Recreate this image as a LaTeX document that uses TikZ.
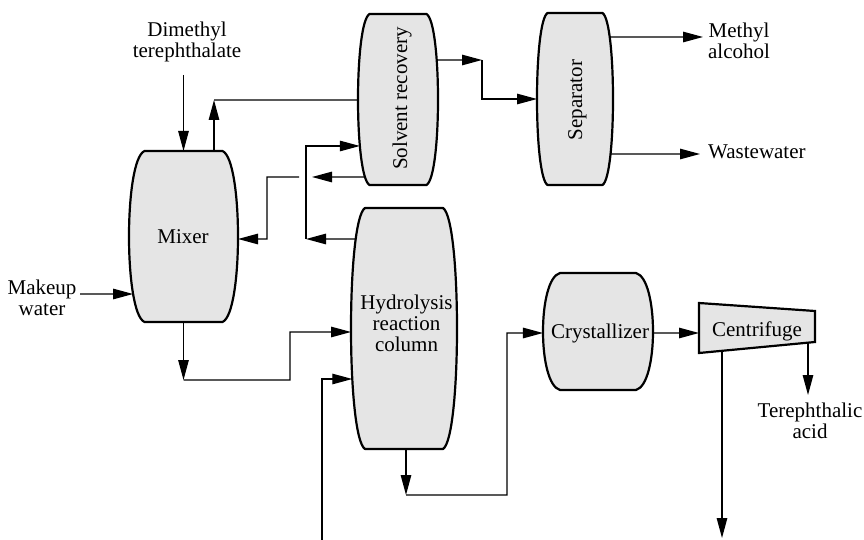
\documentclass[tikz,border=0pt]{standalone}
\usepackage{fontspec}
\setmainfont{Liberation Serif}
\usetikzlibrary{arrows.meta,calc,intersections,backgrounds}
\newcommand\barrelbox[3]{%
  \path[vessel, name path=#1-p]
    ($(#1.north west)+(#2,0)$) -- ($(#1.north east)+(-#2,0)$)
    .. controls ($(#1.north east)+(#2/3,#3)$) and ($(#1.south east)+(#2/3,-#3)$)
    .. ($(#1.south east)+(-#2,0)$) -- ($(#1.south west)+(#2,0)$)
    .. controls ($(#1.south west)+(-#2/3,-#3)$) and ($(#1.north west)+(-#2/3,#3)$)
    .. ($(#1.north west)+(#2,0)$) -- cycle;}
\newcommand\sidepts[3]{%
  \path[name path=hl#3] (0,#2) -- (864,#2);
  \path[name intersections={of=#1-p and hl#3, by={#3L,#3R}, sort by=hl#3}];}
\begin{document}
\begin{tikzpicture}[x=1bp,y=-1bp,
  every node/.style={font=\fontsize{21bp}{21bp}\selectfont, inner sep=0pt},
  vessel/.style={draw=black, line width=2.2bp, fill=gray!20, line join=round},
  unit/.style={inner sep=0pt, outer sep=0pt, draw=none},
  flow/.style={draw=black, line width=1.2bp, -{Triangle[length=20bp,width=10.5bp]}},
  pipe/.style={draw=black, line width=1.2bp},
  txt/.style={align=center}]
\useasboundingbox (0,0) rectangle (864,540);

% vessel frames
\node[unit, minimum width=109bp, minimum height=171bp] (mix) at (183.5,236.5) {};
\node[unit, minimum width=106bp, minimum height=241bp] (hyd) at (404,328.5) {};
\node[unit, minimum width=80bp, minimum height=171bp] (sr) at (398,99.5) {};
\node[unit, minimum width=76bp, minimum height=172bp] (sep) at (575,99) {};
\node[unit, minimum width=110bp, minimum height=117bp] (cry) at (598,331.5) {};

\barrelbox{mix}{15.5}{9}
\barrelbox{hyd}{14}{12}
\barrelbox{sr}{11.5}{9}
\barrelbox{sep}{10.5}{9}
\barrelbox{cry}{17}{6}

% centrifuge
\coordinate (ctl) at (699,303);
\coordinate (ctr) at (815,311);
\coordinate (cbr) at (815,342);
\coordinate (cbl) at (699,353);
\path[vessel, line join=miter] (ctl) -- (ctr) -- (cbr) -- (cbl) -- cycle;

% texts
\node[anchor=base] (mixT) at (183,244) {Mixer};
\node[txt] (hydT) at (406.5,323.2) {Hydrolysis\\reaction\\column};
\node[anchor=base, rotate=90] (srT) at (407,98.5) {Solvent recovery};
\node[anchor=base, rotate=90] (sepT) at (582,100) {Separator};
\node[anchor=base] (cryT) at (600,339) {Crystallizer};
\node[anchor=base] (cen) at (757,337) {Centrifuge};
\node[txt] (dmt) at (187,41.6) {Dimethyl\\terephthalate};
\node[txt] (mk) at (42,297.4) {Makeup\\water};
\node[txt] (meoh) at (739,41) {Methyl\\alcohol};
\node[anchor=base west] (ww) at (708,159) {Wastewater};
\node[txt] (tpa) at (810,420.4) {Terephthalic\\acid};

% edge points
\sidepts{mix}{294}{mA}
\sidepts{mix}{239}{mB}
\sidepts{sr}{100}{sA}
\sidepts{sr}{146}{sB}
\sidepts{sr}{177}{sC}
\sidepts{sr}{60}{sD}
\sidepts{hyd}{239}{hA}
\sidepts{hyd}{332}{hB}
\sidepts{hyd}{379}{hC}
\sidepts{cry}{333}{cA}
\sidepts{sep}{99}{pA}
\sidepts{sep}{37}{pB}
\sidepts{sep}{154}{pC}

% free ends and bends
\coordinate (dmtEnd) at (183.5,75);
\coordinate (mixTop) at (214,151);
\coordinate (k1) at (214,100);
\coordinate (k2) at (306,239);
\coordinate (k3) at (312,177);
\coordinate (k4) at (299,177);
\coordinate (k5) at (267,239);
\coordinate (mkEnd) at (80,294);
\coordinate (k6) at (183.5,380);
\coordinate (k7) at (290,332);
\coordinate (k8) at (322,540);
\coordinate (hydBot) at (406,449);
\coordinate (k9) at (406,495);
\coordinate (k10) at (507,333);
\coordinate (cenIn) at (699,333);
\coordinate (cenOut1) at (808,342.7);
\coordinate (tpaEnd) at (808,395);
\coordinate (cenOut2) at (722,350.8);
\coordinate (wEnd) at (722,538);
\coordinate (k11) at (482,60);
\coordinate (meEnd) at (703,37);
\coordinate (wwEnd) at (700,154);

\begin{scope}[on background layer]
\draw[flow] (dmtEnd) -- (mix.north);
\draw[flow] (mixTop) -- (k1);
\draw[pipe] (k1) -- (sAL);
\draw[flow] (hAL) -- (k2);
\draw[flow] (k2) |- (sBL);
\draw[flow] (sCL) -- (k3);
\draw[flow] (k4) -| (k5) -- (mBR);
\draw[flow] (mkEnd) -- (mAL);
\draw[flow] (mix.south) -- (k6);
\draw[flow] (k6) -| (k7) -- (hBL);
\draw[flow] (k8) |- (hCL);
\draw[flow] (hydBot) -- (k9);
\draw[flow] (k9) -| (k10) -- (cAL);
\draw[flow] (cAR) -- (cenIn);
\draw[flow] (cenOut1) -- (tpaEnd);
\draw[flow] (cenOut2) -- (wEnd);
\draw[flow] (sDR) -- (k11);
\draw[flow] (k11) |- (pAL);
\draw[flow] (pBR) -- (meEnd);
\draw[flow] (pCR) -- (wwEnd);
\end{scope}
\end{tikzpicture}
\end{document}
